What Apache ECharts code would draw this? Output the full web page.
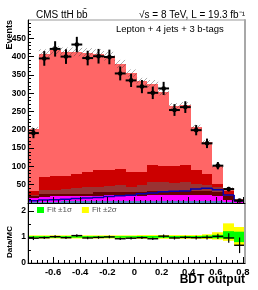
<!DOCTYPE html>
<html><head><meta charset="utf-8">
<script src="https://cdn.jsdelivr.net/npm/echarts@6/dist/echarts.min.js"></script>
<style>html,body{margin:0;padding:0;background:#fff}#c{width:258px;height:290px}</style>
</head><body><div id="c"></div>
<script>
// ---- data ----
const binCenters = [-0.745,-0.665,-0.585,-0.505,-0.425,-0.345,-0.265,-0.185,-0.105,-0.025,0.055,0.135,0.215,0.295,0.375,0.455,0.535,0.615,0.695,0.775];
const binHalf = 0.04;
const dataEvents = [191,395,421,400,433,396,401,399,354,335,318,301,313,254,262,199,163,102,38,7];
const dataErr    = [14,20,21,20,21,20,20,20,19,18,18,17,18,16,16,14,13,10,6,3];
// stacked background components (bottom to top)
const bkgSteel   = [4,4,4,5,5,5,5,6,6,6,6,6,6,6,6,6,5,5,3,1];
const bkgMagenta = [9,13,14,13,13,13,13,16,17,17,14,15,15,17,17,17,18,13,6,2];
const bkgMaroon  = [5,7,6,6,6,7,11,7,6,6,9,11,11,9,9,10,10,11,9,1];
const bkgBrown   = [5,12,12,14,17,19,16,18,21,16,19,25,25,22,25,20,17,15,5,1];
const bkgRed     = [11,35,37,37,39,42,44,44,43,39,37,47,43,46,46,37,30,8,9,3];
const bkgSalmon  = [168,337,344,338,333,325,319,310,287,271,247,222,203,165,165,117,86,48,8,2];
const mcErr      = [6,12,12,12,12,12,12,12,11,10,10,10,9,8,8,7,6,5,3,1];
const signalLine = [6,8,9,10,12,14,15,18,20,21,25,27,31,32,33,38,40,36,22,6];
// ratio panel
const ratioVals  = [0.95,0.97,1.01,0.97,1.05,0.96,0.98,1.0,0.93,0.95,0.97,0.93,1.03,0.96,0.98,0.97,0.98,1.02,0.96,0.68];
const ratioErr   = [0.07,0.05,0.05,0.05,0.05,0.05,0.05,0.05,0.05,0.05,0.05,0.05,0.06,0.06,0.06,0.07,0.08,0.10,0.18,0.30];
const fit1Lo = [0.97,0.97,0.97,0.97,0.97,0.97,0.97,0.97,0.97,0.97,0.965,0.965,0.965,0.965,0.965,0.965,0.96,0.95,0.94,0.80];
const fit1Hi = [1.03,1.03,1.03,1.03,1.03,1.03,1.03,1.03,1.03,1.03,1.035,1.035,1.035,1.035,1.035,1.035,1.05,1.08,1.22,1.20];
const fit2Lo = [0.94,0.94,0.94,0.94,0.94,0.94,0.94,0.94,0.94,0.94,0.93,0.93,0.93,0.93,0.93,0.93,0.92,0.90,0.85,0.68];
const fit2Hi = [1.06,1.06,1.06,1.06,1.06,1.06,1.06,1.06,1.06,1.06,1.07,1.07,1.07,1.07,1.07,1.07,1.10,1.18,1.52,1.38];
// axes
const xTickLabels = [-0.6,-0.4,-0.2,0,0.2,0.4,0.6,0.8];
const yTopLabels = [50,100,150,200,250,300,350,400,450];
const yRatioLabels = [0,1,2];
const XMIN = -0.785, XMAX = 0.815;

const FONT = 'Liberation Sans, Arial, Helvetica, sans-serif';

const xMinor = []; for (let i = -19; i <= 20; i++) xMinor.push(Math.round(i*4)/100);
const yMinor = []; for (let v = 10; v < 500; v += 10) yMinor.push(v);

// ---- renderers ----
function rectRender(params, api) {
  const xc = api.value(0), y0 = api.value(1), y1 = api.value(2);
  const p0 = api.coord([xc - binHalf, y0]);
  const p1 = api.coord([xc + binHalf, y1]);
  const x0 = Math.round(p0[0]), x1 = Math.round(p1[0]);
  const ya = Math.round(p1[1]), yb = Math.round(p0[1]);
  return {type:'rect', shape:{x:x0, y:ya, width:x1-x0, height:yb-ya}, style:{fill: api.visual('color')}};
}
const layers = [
  {name:'steel', vals:bkgSteel, color:'#4f7fc0'},
  {name:'magenta', vals:bkgMagenta, color:'#ff00ff'},
  {name:'maroon', vals:bkgMaroon, color:'#660000'},
  {name:'brown', vals:bkgBrown, color:'#993333'},
  {name:'red', vals:bkgRed, color:'#cc0000'},
  {name:'salmon', vals:bkgSalmon, color:'#ff6666'}
];
const cum = binCenters.map(() => 0);
const series = [];
layers.forEach(L => {
  const d = binCenters.map((c, i) => { const b = cum[i]; cum[i] += L.vals[i]; return [c, b, cum[i]]; });
  series.push({type:'custom', name:L.name, xAxisIndex:0, yAxisIndex:0, renderItem:rectRender, itemStyle:{color:L.color}, data:d, z:1, clip:true, silent:true});
});
// hatch pattern for MC uncertainty
const pc = document.createElement('canvas'); pc.width = 5; pc.height = 5;
const g = pc.getContext('2d'); g.strokeStyle = 'rgba(70,70,70,0.75)'; g.lineWidth = 0.6;
g.beginPath(); g.moveTo(0,5); g.lineTo(5,0); g.stroke();
series.push({type:'custom', name:'unc', xAxisIndex:0, yAxisIndex:0, z:2, clip:true, silent:true,
  data: binCenters.map((c,i) => [c, cum[i]-mcErr[i], cum[i]+mcErr[i]]),
  renderItem: (params, api) => {
    const xc = api.value(0);
    const p0 = api.coord([xc - binHalf, api.value(1)]);
    const p1 = api.coord([xc + binHalf, api.value(2)]);
    return {type:'rect', shape:{x:p0[0], y:p1[1], width:p1[0]-p0[0], height:p0[1]-p1[1]}, style:{fill:{image:pc, repeat:'repeat'}}};
  }});
// signal outline
series.push({type:'custom', name:'signal', xAxisIndex:0, yAxisIndex:0, z:3, clip:true, silent:true,
  data: binCenters.map((c,i) => [c, signalLine[i], i > 0 ? signalLine[i-1] : 0, i === binCenters.length-1 ? 1 : 0]),
  renderItem: (params, api) => {
    const xc = api.value(0), v = api.value(1), pv = api.value(2), last = api.value(3);
    const a = api.coord([xc - binHalf, pv]), b = api.coord([xc - binHalf, v]);
    const c = api.coord([xc + binHalf, v]), d = api.coord([xc + binHalf, 0]);
    const pts = [a, b, c]; if (last) pts.push(d);
    return {type:'polyline', shape:{points:pts}, style:{stroke:'#0000b0', lineWidth:1.5, fill:null}};
  }});
// data points
series.push({type:'custom', name:'data', xAxisIndex:0, yAxisIndex:0, z:5, clip:true, silent:true,
  data: binCenters.map((c,i) => [c, dataEvents[i], dataErr[i]]),
  renderItem: (params, api) => {
    const x = api.value(0), v = api.value(1), e = api.value(2);
    const c = api.coord([x, v]), lo = api.coord([x, v-e]), hi = api.coord([x, v+e]);
    const l = api.coord([x-binHalf, v]), r = api.coord([x+binHalf, v]);
    return {type:'group', children:[
      {type:'line', shape:{x1:l[0], y1:c[1], x2:r[0], y2:c[1]}, style:{stroke:'#000', lineWidth:2}},
      {type:'line', shape:{x1:c[0], y1:lo[1], x2:c[0], y2:hi[1]}, style:{stroke:'#000', lineWidth:2}},
      {type:'circle', shape:{cx:c[0], cy:c[1], r:2.3}, style:{fill:'#000'}}
    ]};
  }});
// ratio bands
function bandRender(params, api) {
  const xc = api.value(0);
  const p0 = api.coord([xc - binHalf, api.value(1)]);
  const p1 = api.coord([xc + binHalf, api.value(2)]);
  const x0 = Math.round(p0[0]), x1 = Math.round(p1[0]);
  return {type:'rect', shape:{x:x0, y:p1[1], width:x1-x0, height:p0[1]-p1[1]}, style:{fill: api.visual('color')}};
}
series.push({type:'custom', name:'Fit \u00b12\u03c3', xAxisIndex:2, yAxisIndex:1, z:1, clip:true, silent:true,
  itemStyle:{color:'#ffff00'}, renderItem:bandRender, data: binCenters.map((c,i) => [c, fit2Lo[i], fit2Hi[i]])});
series.push({type:'custom', name:'Fit \u00b11\u03c3', xAxisIndex:2, yAxisIndex:1, z:2, clip:true, silent:true,
  itemStyle:{color:'#00ff00'}, renderItem:bandRender, data: binCenters.map((c,i) => [c, fit1Lo[i], fit1Hi[i]])});
series.push({type:'custom', name:'ratio', xAxisIndex:2, yAxisIndex:1, z:5, clip:true, silent:true,
  data: binCenters.map((c,i) => [c, ratioVals[i], ratioErr[i]]),
  renderItem: (params, api) => {
    const x = api.value(0), v = api.value(1), e = api.value(2);
    const c = api.coord([x, v]), lo = api.coord([x, v-e]), hi = api.coord([x, v+e]);
    const l = api.coord([x-binHalf, v]), r = api.coord([x+binHalf, v]);
    return {type:'group', children:[
      {type:'line', shape:{x1:l[0], y1:c[1], x2:r[0], y2:c[1]}, style:{stroke:'#000', lineWidth:1.4}},
      {type:'line', shape:{x1:c[0], y1:lo[1], x2:c[0], y2:hi[1]}, style:{stroke:'#000', lineWidth:1.2}}
    ]};
  }});

const axisLineBlack = {show:true, onZero:false, lineStyle:{color:'#000', width:1}};
function xMajor(gi, labels) {
  return {gridIndex:gi, type:'value', min:XMIN, max:XMAX, position:'bottom', z:10,
    axisLine:axisLineBlack,
    axisTick:{show:true, inside:true, length:6, customValues:xTickLabels, lineStyle:{color:'#000'}},
    axisLabel: labels ? {show:true, customValues:xTickLabels, fontSize:9.5, fontWeight:'bold', color:'#000', fontFamily:FONT, margin:4} : {show:false},
    splitLine:{show:false}};
}
function xMinorAx(gi) {
  return {gridIndex:gi, type:'value', min:XMIN, max:XMAX, position:'bottom', z:10,
    axisLine:{show:false, onZero:false}, axisTick:{show:true, inside:true, length:3, customValues:xMinor, lineStyle:{color:'#000'}},
    axisLabel:{show:false}, splitLine:{show:false}};
}
function rightFrame(gi, mn, mx) {
  return {gridIndex:gi, type:'value', min:mn, max:mx, position:'right', z:10,
    axisLine:{show:true, onZero:false, lineStyle:{color:'#a8a8a8', width:2}},
    axisTick:{show:false}, axisLabel:{show:false}, splitLine:{show:false}};
}

const option = {
  animation:false,
  backgroundColor:'#fff',
  grid:[
    {left:28, right:13, top:20, height:183, show:true, borderColor:'#999', borderWidth:1, containLabel:false, outerBoundsMode:'none'},
    {left:28, right:13, top:203, height:60, show:true, borderColor:'#999', borderWidth:1, containLabel:false, outerBoundsMode:'none'}
  ],
  xAxis:[ xMajor(0,false), xMinorAx(0), xMajor(1,true), xMinorAx(1) ],
  yAxis:[
    {gridIndex:0, type:'value', min:0, max:500, position:'left', z:10, axisLine:axisLineBlack,
      axisTick:{show:true, inside:true, length:6, customValues:yTopLabels, lineStyle:{color:'#000'}},
      axisLabel:{show:true, customValues:yTopLabels, fontSize:8.5, fontWeight:'bold', color:'#000', fontFamily:FONT, margin:2},
      splitLine:{show:false}},
    {gridIndex:1, type:'value', min:0, max:2.3, position:'left', z:10, axisLine:axisLineBlack,
      axisTick:{show:true, inside:true, length:6, customValues:yRatioLabels, lineStyle:{color:'#000'}},
      axisLabel:{show:true, customValues:yRatioLabels, fontSize:8.5, fontWeight:'bold', color:'#000', fontFamily:FONT, margin:2},
      splitLine:{show:false}},
    {gridIndex:0, type:'value', min:0, max:500, position:'left', z:10, axisLine:{show:false, onZero:false},
      axisTick:{show:true, inside:true, length:3, customValues:yMinor, lineStyle:{color:'#000'}},
      axisLabel:{show:false}, splitLine:{show:false}},
    {gridIndex:1, type:'value', min:0, max:2.3, position:'left', z:10, axisLine:{show:false, onZero:false},
      axisTick:{show:true, inside:true, length:3, customValues:[0.5,1.5], lineStyle:{color:'#000'}},
      axisLabel:{show:false}, splitLine:{show:false}},
    rightFrame(0, 0, 500),
    rightFrame(1, 0, 2.3)
  ],
  legend:{left:37, top:206, padding:0, itemWidth:7, itemHeight:6, itemGap:10, icon:'rect', selectedMode:false,
    textStyle:{fontSize:8, color:'#555', fontFamily:FONT, padding:[0,0,0,-2]},
    data:['Fit \u00b11\u03c3','Fit \u00b12\u03c3']},
  graphic:[
    {type:'text', x:36, y:15, style:{text:'CMS ttH bb\u0304', font:'10px ' + FONT, fill:'#000', align:'left', verticalAlign:'middle'}},
    {type:'text', x:245, y:15, style:{text:'\u221as = 8 TeV, L = 19.3 fb\u207b\u00b9', font:'10px ' + FONT, fill:'#000', align:'right', verticalAlign:'middle'}},
    {type:'text', x:116, y:29, style:{text:'Lepton + 4 jets + 3 b-tags', font:'9.5px ' + FONT, fill:'#000', align:'left', verticalAlign:'middle'}},
    {type:'text', x:9.5, y:20, rotation:Math.PI/2, style:{text:'Events', font:'bold 9px ' + FONT, fill:'#000', align:'right', verticalAlign:'middle'}},
    {type:'text', x:9.5, y:242, rotation:Math.PI/2, style:{text:'Data/MC', font:'bold 8px ' + FONT, fill:'#000', align:'center', verticalAlign:'middle'}},
    {type:'text', x:245, y:280, style:{text:'BDT output', font:'bold 12px ' + FONT, fill:'#000', align:'right', verticalAlign:'middle'}}
  ],
  series: series
};
const chart = echarts.init(document.getElementById('c'), null, {renderer:'canvas'});
chart.setOption(option);
</script></body></html>
